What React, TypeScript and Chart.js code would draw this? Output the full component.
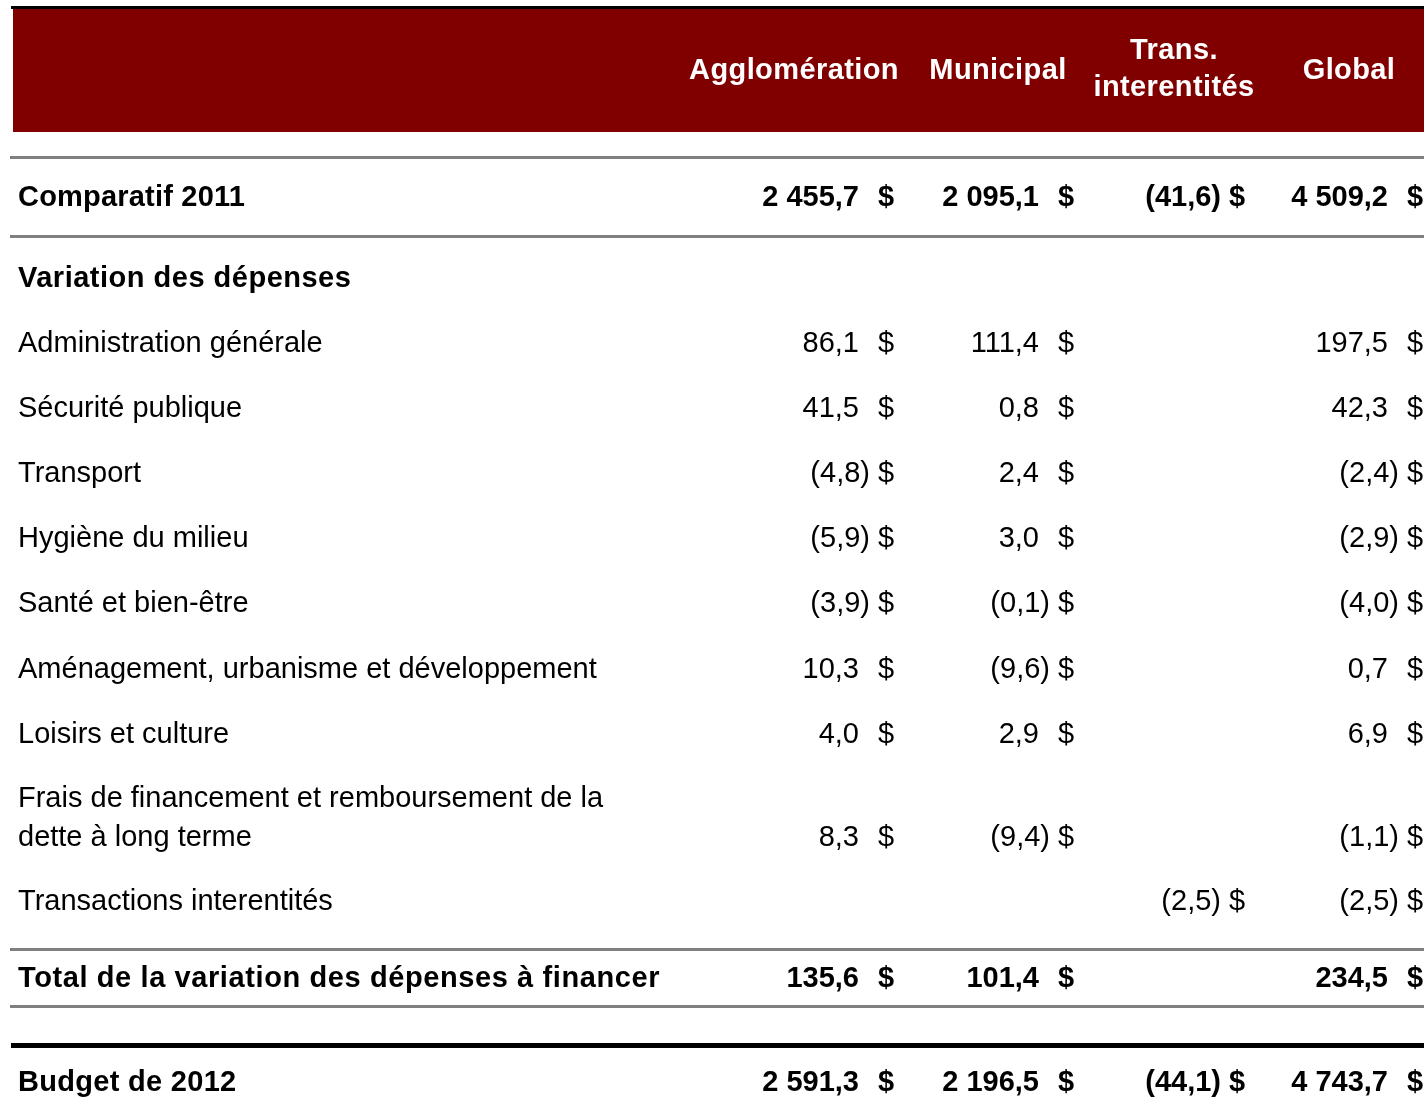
import React, { useEffect, useRef } from "react";
import { Chart, registerables } from "chart.js";

Chart.register(...registerables);

// ---------- data ----------
const COLUMN_HEADERS: string[][] = [["Agglomération"], ["Municipal"], ["Trans.", "interentités"], ["Global"]];

const ROW_LABELS: string[][] = [
  ["Comparatif 2011"],
  ["Variation des dépenses"],
  ["Administration générale"],
  ["Sécurité publique"],
  ["Transport"],
  ["Hygiène du milieu"],
  ["Santé et bien-être"],
  ["Aménagement, urbanisme et développement"],
  ["Loisirs et culture"],
  ["Frais de financement et remboursement de la", "dette à long terme"],
  ["Transactions interentités"],
  ["Total de la variation des dépenses à financer"],
  ["Budget de 2012"],
];

const ROW_BOLD: boolean[] = [true, true, false, false, false, false, false, false, false, false, false, true, true];

const AGGLOMERATION: (number | null)[] = [2455.7, null, 86.1, 41.5, -4.8, -5.9, -3.9, 10.3, 4.0, 8.3, null, 135.6, 2591.3];
const MUNICIPAL: (number | null)[] = [2095.1, null, 111.4, 0.8, 2.4, 3.0, -0.1, -9.6, 2.9, -9.4, null, 101.4, 2196.5];
const TRANS_INTERENTITES: (number | null)[] = [-41.6, null, null, null, null, null, null, null, null, null, -2.5, null, -44.1];
const GLOBAL: (number | null)[] = [4509.2, null, 197.5, 42.3, -2.4, -2.9, -4.0, 0.7, 6.9, -1.1, -2.5, 234.5, 4743.7];

const SERIES = [AGGLOMERATION, MUNICIPAL, TRANS_INTERENTITES, GLOBAL];

// ---------- layout (scale units) ----------
const W = 1424;
const H = 1110;
const LABEL_X = 18;
const HEADER_CENTER_X = [794, 998, 1174, 1349];
const HEADER_BASELINES: number[][] = [[79], [79], [59, 96], [79]];
const DOLLAR_X = [878, 1058, 1229, 1407];
const POS_GAP = 19;
const NEG_GAP = 8;
const ROW_BASELINE = [206, 287, 352, 417, 482, 547, 612, 678, 743, 846, 910, 987, 1091];
const ROW_SPACING_PX = [0.2, 0.5, 0, 0, 0, 0, 0, 0, 0, 0, 0, 0.6, 0.3];
const LINE_HEIGHT = 39;
const GRAY_RULES = [157.5, 236.5, 949.5, 1006.5];
const RULE_LEFT = 10;

const FONT = '"Liberation Sans", Arial, Helvetica, sans-serif';
const DARK_RED = "#800000";
const GRAY = "#808080";

function fmt(v: number): string {
  const [i, d] = Math.abs(v).toFixed(1).split(".");
  const s = i.replace(/\B(?=(\d{3})+(?!\d))/g, " ") + "," + d;
  return v < 0 ? "(" + s + ")" : s;
}

const tablePlugin = {
  id: "tablePlugin",
  afterDraw(chart: any) {
    const ctx: CanvasRenderingContext2D = chart.ctx;
    const xs = chart.scales.x;
    const ys = chart.scales.y;
    const X = (v: number) => xs.getPixelForValue(v);
    const Y = (v: number) => ys.getPixelForValue(v);
    ctx.save();

    // top black rule
    ctx.fillStyle = "#000";
    ctx.fillRect(X(11), Y(6), X(W) - X(11), Y(9) - Y(6));
    // header band
    ctx.fillStyle = DARK_RED;
    ctx.fillRect(X(13), Y(9), X(W) - X(13), Y(132) - Y(9));

    // header texts
    ctx.fillStyle = "#fff";
    ctx.font = `bold 29px ${FONT}`;
    ctx.textAlign = "center";
    ctx.textBaseline = "alphabetic";
    (ctx as any).letterSpacing = "0.4px";
    COLUMN_HEADERS.forEach((lines, c) => {
      lines.forEach((line, k) => {
        ctx.fillText(line, X(HEADER_CENTER_X[c]), Y(HEADER_BASELINES[c][k]));
      });
    });
    (ctx as any).letterSpacing = "0px";

    // gray rules
    ctx.strokeStyle = GRAY;
    ctx.lineWidth = 3;
    GRAY_RULES.forEach((ry) => {
      ctx.beginPath();
      ctx.moveTo(X(RULE_LEFT), Y(ry));
      ctx.lineTo(X(W), Y(ry));
      ctx.stroke();
    });
    // bottom black rule
    ctx.strokeStyle = "#000";
    ctx.lineWidth = 5;
    ctx.beginPath();
    ctx.moveTo(X(11), Y(1045.5));
    ctx.lineTo(X(W), Y(1045.5));
    ctx.stroke();

    // rows
    ctx.fillStyle = "#000";
    ROW_LABELS.forEach((lines, r) => {
      const bold = ROW_BOLD[r];
      ctx.font = `${bold ? "bold " : ""}29px ${FONT}`;
      ctx.textAlign = "left";
      const base = ROW_BASELINE[r];
      (ctx as any).letterSpacing = `${ROW_SPACING_PX[r]}px`;
      lines.forEach((line, k) => {
        const by = base - LINE_HEIGHT * (lines.length - 1 - k);
        ctx.fillText(line, X(LABEL_X), Y(by));
      });
      (ctx as any).letterSpacing = "0px";
      SERIES.forEach((series, c) => {
        const v = series[r];
        if (v === null || v === undefined) return;
        const dx = DOLLAR_X[c];
        ctx.textAlign = "right";
        ctx.fillText(fmt(v), X(dx - (v < 0 ? NEG_GAP : POS_GAP)), Y(base));
        ctx.textAlign = "left";
        ctx.fillText("$", X(dx), Y(base));
      });
    });
    ctx.restore();
  },
};

export default function App() {
  const ref = useRef<HTMLCanvasElement | null>(null);
  useEffect(() => {
    if (!ref.current) return;
    const chart = new Chart(ref.current, {
      type: "scatter",
      data: { datasets: [] },
      options: {
        animation: false,
        responsive: false,
        maintainAspectRatio: false,
        layout: { padding: 0 },
        plugins: { legend: { display: false }, tooltip: { enabled: false }, title: { display: false } },
        scales: {
          x: { type: "linear", min: 0, max: W, display: false },
          y: { type: "linear", min: 0, max: H, reverse: true, display: false },
        },
      },
      plugins: [tablePlugin],
    });
    return () => chart.destroy();
  }, []);
  return (
    <div style={{ position: "absolute", left: 0, top: 0, width: W, height: H, background: "#fff" }}>
      <canvas ref={ref} width={W} height={H} style={{ width: W, height: H, display: "block" }} />
    </div>
  );
}
